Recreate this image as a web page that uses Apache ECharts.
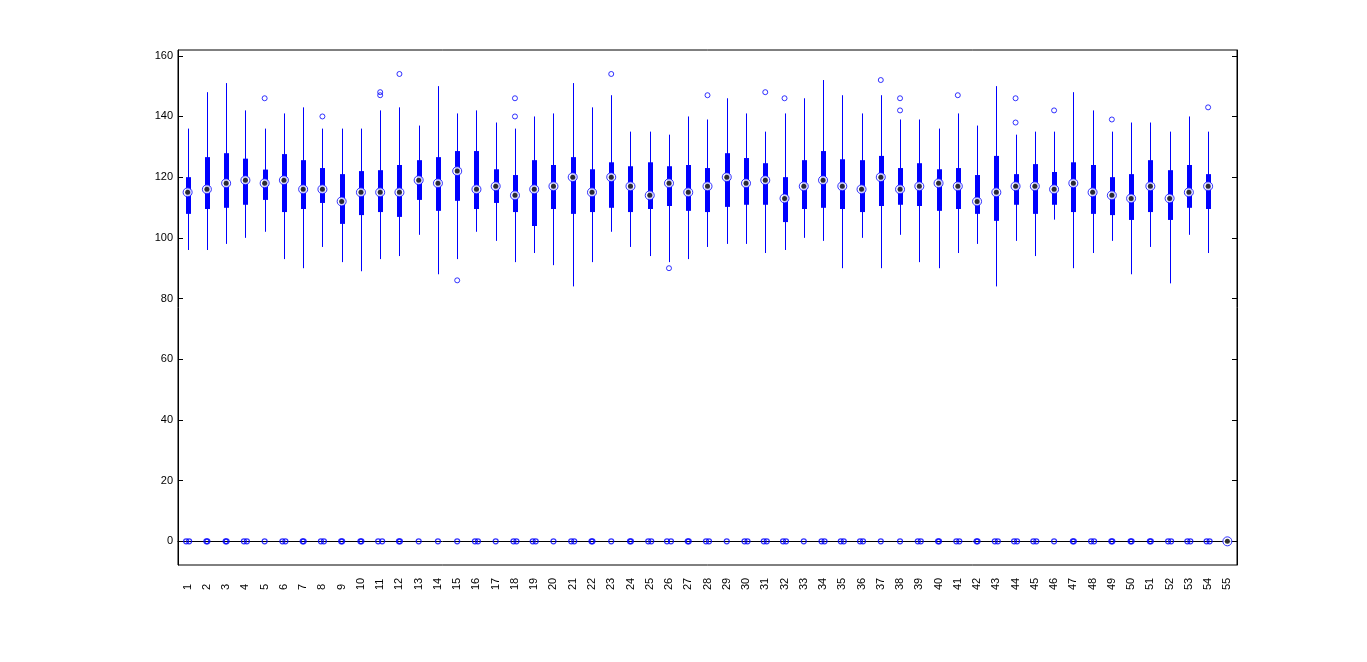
<!DOCTYPE html>
<html>
<head>
<meta charset="utf-8">
<script src="https://cdn.jsdelivr.net/npm/echarts@6/dist/echarts.min.js"></script>
<style>
html,body{margin:0;padding:0;background:#fff;}
#chart{width:1367px;height:662px;}
</style>
</head>
<body>
<div id="chart"></div>
<script>
// ---------- data ----------
const categories = ['1','2','3','4','5','6','7','8','9','10','11','12','13','14','15','16','17','18','19','20',
  '21','22','23','24','25','26','27','28','29','30','31','32','33','34','35','36','37','38','39','40',
  '41','42','43','44','45','46','47','48','49','50','51','52','53','54','55'];

const yTickValues = [0, 20, 40, 60, 80, 100, 120, 140, 160];

const whiskerHigh = [136,148,151,142,136,141,143,136,136,136,142,143,137,150,141,
  142,138,136,140,141,151,143,147,135,135,134,140,139,146,141,
  135,141,146,152,147,141,147,139,139,136,141,137,150,134,135,
  135,148,142,135,138,138,135,140,135,0];

const q3 = [120,126.6,127.9,126.1,122.5,127.6,125.6,123,121,122,122.3,124,125.6,126.6,128.6,
  128.6,122.6,120.7,125.6,124,126.6,122.6,124.9,123.6,124.9,123.6,124,123,127.9,126.3,
  124.6,120,125.6,128.6,125.9,125.6,127,123,124.6,122.6,123,120.7,127,121,124.3,
  121.7,124.9,124,120,121,125.6,122.3,124,121,0];

const median = [115,116,118,119,118,119,116,116,112,115,115,115,119,118,122,
  116,117,114,116,117,120,115,120,117,114,118,115,117,120,118,
  119,113,117,119,117,116,120,116,117,118,117,112,115,117,117,
  116,118,115,114,113,117,113,115,117,0];

const q1 = [107.9,109.5,109.9,110.9,112.5,108.5,109.5,111.5,104.6,107.5,108.5,106.9,112.5,108.9,112.2,
  109.5,111.5,108.5,103.9,109.5,107.9,108.5,109.9,108.5,109.5,110.5,108.9,108.5,110.2,110.9,
  110.9,105.2,109.5,109.9,109.5,108.5,110.5,110.9,110.5,108.9,109.5,107.9,105.6,110.9,107.9,
  110.9,108.5,107.9,107.5,105.9,108.5,105.9,109.9,109.5,0];

const whiskerLow = [96,96,98,100,102,93,90,97,92,89,93,94,101,88,93,
  102,99,92,95,91,84,92,102,97,94,92,93,97,98,98,
  95,96,100,99,90,100,90,101,92,90,95,98,84,99,94,
  106,90,95,99,88,97,85,101,95,0];

// high/low outliers: [category number, value]
const outliers = [[5,146],[8,140],[11,148],[11,147],[12,154],[15,86],[18,146],[18,140],
  [23,154],[26,90],[28,147],[31,148],[32,146],[37,152],[38,146],[38,142],[41,147],
  [44,146],[44,138],[46,142],[49,139],[54,143]];

// outliers at zero: number of circles per category (categories 1..55)
const zeroOutlierCount = [2,2,2,2,1,2,2,2,2,2,2,2,1,1,1,2,1,2,2,1,2,2,1,2,2,2,2,2,1,2,
  2,2,1,2,2,2,1,1,2,2,2,2,2,2,2,1,2,2,2,2,2,2,2,2,0];
const zeroOutlierValue = 0;

// ---------- styles ----------
const BLUE = '#0000ff';
const FONT = 'Liberation Sans, Arial, sans-serif';
// horizontal spread (px) of overlapping zero outliers, per category
const zeroSpreadPx = [3,1,1,3,0,3,1,3,1,1,4,1,0,0,0,3,0,3,3,0,3,1,0,1,3,4,1,3,0,3,
  3,3,0,3,3,3,0,0,3,1,3,1,3,3,3,0,1,3,1,1,1,3,3,3,0];

// ---------- build ----------
const boxData = categories.map((c, i) => [i, whiskerLow[i], q1[i], median[i], q3[i], whiskerHigh[i]]);
const medianData = categories.map((c, i) => [i, median[i]]);
const outlierData = outliers.map(o => [o[0] - 1, o[1]]);
const zeroData = [];
zeroOutlierCount.forEach((n, i) => {
  for (let k = 0; k < n; k++) {
    const off = n > 1 ? (k === 0 ? -zeroSpreadPx[i] / 2 : zeroSpreadPx[i] / 2) : 0;
    zeroData.push({ value: [i, zeroOutlierValue], symbolOffset: [off, 0] });
  }
});

const chart = echarts.init(document.getElementById('chart'), null, { renderer: 'canvas' });

const yAxisBase = {
  type: 'value',
  min: -7.8,
  max: 161.9,
  splitLine: { show: false },
  axisLine: { show: true, lineStyle: { color: '#000', width: 1 } },
  axisTick: { show: true, inside: true, length: 5, lineStyle: { color: '#000' }, customValues: yTickValues },
};

chart.setOption({
  animation: false,
  backgroundColor: '#fff',
  grid: { left: 178, right: 130, top: 50, bottom: 97, show: true, borderColor: '#000', borderWidth: 1, containLabel: false },
  xAxis: {
    type: 'category',
    data: categories,
    boundaryGap: true,
    axisLine: { show: true, lineStyle: { color: '#000' } },
    axisTick: { show: false },
    axisLabel: {
      rotate: 90, interval: 0, align: 'left', verticalAlign: 'middle', margin: 25,
      color: '#000', fontSize: 11, fontFamily: FONT
    },
    splitLine: { show: false }
  },
  yAxis: [
    Object.assign({}, yAxisBase, {
      position: 'left',
      axisLabel: { show: true, customValues: yTickValues, color: '#000', fontSize: 11, fontFamily: FONT, margin: 5 }
    }),
    Object.assign({}, yAxisBase, {
      position: 'right',
      axisLabel: { show: false }
    })
  ],
  series: [
    {
      type: 'custom',
      data: boxData,
      encode: { x: 0, y: [1, 2, 3, 4, 5] },
      z: 2,
      renderItem: function (params, api) {
        const x = api.value(0);
        const pLow = api.coord([x, api.value(1)]);
        const pQ1 = api.coord([x, api.value(2)]);
        const pQ3 = api.coord([x, api.value(4)]);
        const pHigh = api.coord([x, api.value(5)]);
        const cx = Math.round(pLow[0]) + 0.5;
        const bw = 5;
        return {
          type: 'group',
          children: [
            { type: 'line', shape: { x1: cx, y1: pLow[1], x2: cx, y2: pHigh[1] },
              style: { stroke: BLUE, lineWidth: 1 } },
            { type: 'rect', shape: { x: cx - bw / 2, y: pQ3[1], width: bw, height: pQ1[1] - pQ3[1] },
              style: { fill: BLUE } }
          ]
        };
      }
    },
    {
      type: 'scatter',
      data: outlierData,
      symbol: 'circle',
      symbolSize: 5,
      z: 3,
      itemStyle: { color: 'rgba(0,0,0,0)', borderColor: BLUE, borderWidth: 1 }
    },
    {
      type: 'scatter',
      data: zeroData,
      symbol: 'circle',
      symbolSize: 5,
      z: 3,
      itemStyle: { color: 'rgba(0,0,0,0)', borderColor: BLUE, borderWidth: 1.2 }
    },
    {
      type: 'scatter',
      data: medianData,
      symbol: 'circle',
      symbolSize: 9,
      z: 4,
      itemStyle: { color: '#fff', borderColor: BLUE, borderWidth: 1 }
    },
    {
      type: 'scatter',
      data: medianData,
      symbol: 'circle',
      symbolSize: 5,
      z: 5,
      itemStyle: { color: '#000' }
    }
  ]
});
</script>
</body>
</html>
